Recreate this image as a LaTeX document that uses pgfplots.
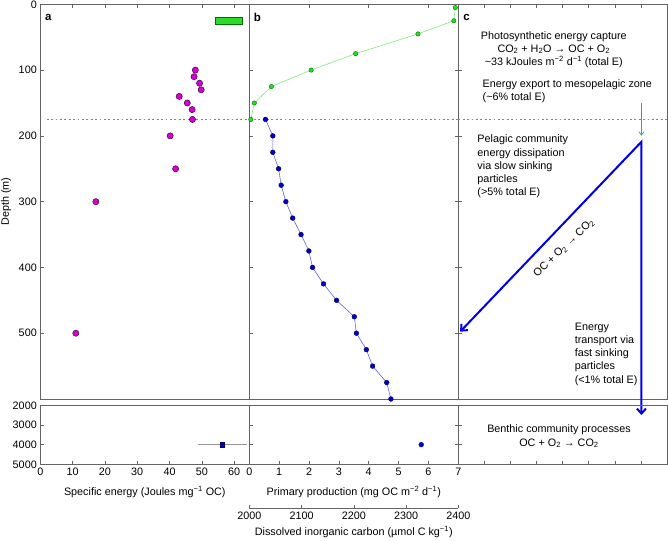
\documentclass[border=0pt]{standalone}
\usepackage{fontspec}
\setmainfont{Liberation Sans}
\usepackage{pgfplots}
\pgfplotsset{compat=1.18}
\usetikzlibrary{arrows.meta}

\definecolor{axgray}{RGB}{100,100,100}
\definecolor{magfill}{RGB}{215,0,215}
\definecolor{magdraw}{RGB}{70,0,70}
\definecolor{dotmag}{RGB}{240,60,240}
\definecolor{gfill}{RGB}{40,220,40}
\definecolor{gdraw}{RGB}{0,110,0}
\definecolor{gline}{RGB}{130,230,130}
\definecolor{bfill}{RGB}{0,0,190}
\definecolor{bdraw}{RGB}{0,0,110}
\definecolor{bline}{RGB}{100,100,225}
\definecolor{arrblue}{RGB}{0,0,230}
\definecolor{arrgreen}{RGB}{50,175,100}
\definecolor{errgray}{RGB}{150,150,150}

\newcommand{\tfont}{\fontsize{10.8}{13.2}\selectfont}

\pgfplotsset{
  panel/.style={
    scale only axis, anchor=south west,
    axis line style={draw=axgray, line width=0.6pt},
    tick align=inside,
    every tick/.style={axgray, line width=0.5pt},
    major tick length=3.5pt,
    y dir=reverse,
    clip=false,
    tick label style={font=\tfont},
    label style={font=\tfont},
    /pgf/number format/assume math mode=true,
    /pgf/number format/1000 sep={},
  },
  upper/.style={panel, height=394.7pt, ymin=0, ymax=600},
  lower/.style={panel, height=59pt, ymin=2000, ymax=5000},
}

\begin{document}
\begin{tikzpicture}
\useasboundingbox (0,0) rectangle (668pt,540pt);

% ---------- Panel a, upper ----------
\begin{axis}[upper, at={(40.3pt,141pt)}, width=209pt,
  xmin=0, xmax=64.7, xtick={10,20,...,60}, xtick pos=right, xticklabels={},
  ytick={0,100,...,500}, ytick pos=left,
  ylabel={Depth (m)},
  ylabel style={at={(axis description cs:-0.164,0.5)}, anchor=center}]
\addplot[color=dotmag, solid, line width=1.8pt, dash pattern=on 1.8pt off 2.6pt] coordinates {(2,175) (64.7,175)};
\addplot[fill=gfill, draw=gdraw, line width=0.5pt] coordinates {(54.1,20) (62.5,20) (62.5,30) (54.1,30)} -- cycle;
\addplot[only marks, mark=*, mark size=3.1pt, mark options={fill=magfill, draw=magdraw, line width=0.5pt}] coordinates {
(48.0,100) (47.6,110) (49.3,120) (49.8,130) (43.0,140) (45.5,150) (47.0,160) (47.1,175)
(40.2,200) (41.9,250) (17.2,300) (11.0,500)};
\node[font=\bfseries\fontsize{11.5}{13}\selectfont] at (axis cs:2.5,20) {a};
\end{axis}

% ---------- Panel b, upper ----------
\begin{axis}[upper, at={(249.3pt,141pt)}, width=209pt,
  xmin=0, xmax=7, xtick={2,4,6}, xtick pos=right, xticklabels={},
  ytick={100,200,...,500}, ytick pos=both, yticklabels={}]
\addplot[color=dotmag, solid, line width=1.8pt, dash pattern=on 1.8pt off 2.6pt] coordinates {(0,175) (7,175)};
\addplot[color=gline, line width=0.6pt, mark=*, mark size=2.2pt, mark options={fill=gfill, draw=gdraw, line width=0.4pt}] coordinates {
(6.90,5) (6.85,25) (5.65,45) (3.56,75) (2.07,100) (0.74,125) (0.17,150) (0.05,175)};
\node[font=\bfseries\fontsize{11.5}{13}\selectfont] at (axis cs:0.27,20) {b};
\end{axis}

% DIC overlay on panel b upper
\begin{axis}[upper, at={(249.3pt,141pt)}, width=209pt, hide axis,
  xmin=2000, xmax=2400]
\addplot[color=bline, line width=0.6pt, mark=*, mark size=2.4pt, mark options={fill=bfill, draw=bdraw, line width=0.4pt}] coordinates {
(2031,175) (2045,200) (2045,225) (2056,250) (2061,275) (2070,300) (2083,325) (2099,350)
(2114,375) (2121,400) (2142,425) (2167,450) (2201,475) (2205,500) (2224,525) (2236,550)
(2263,575) (2271,600)};
\end{axis}

% ---------- Panel c, upper ----------
\begin{axis}[upper, at={(458.3pt,141pt)}, width=208.7pt,
  xmin=0, xmax=8, xtick={1,...,7}, xtick pos=right, xticklabels={},
  ytick={100,200,...,500}, ytick pos=left, yticklabels={}]
\addplot[color=dotmag, solid, line width=1.8pt, dash pattern=on 1.8pt off 2.6pt] coordinates {(0,175) (8,175)};
\node[font=\bfseries\fontsize{11.5}{13}\selectfont] at (axis cs:0.32,20) {c};
\node[font=\tfont, align=center] at (axis cs:3.66,68.7) {Photosynthetic energy capture\\CO\textsubscript{2} + H\textsubscript{2}O → OC + O\textsubscript{2}\\\textasciitilde33 kJoules m\textsuperscript{−2} d\textsuperscript{−1} (total E)};
\node[font=\tfont, align=left, anchor=west] at (axis cs:0.80,132.6) {Energy export to mesopelagic zone\\(\textasciitilde6\% total E)};
\node[font=\tfont, align=left, anchor=west] at (axis cs:0.60,246.7) {Pelagic community\\energy dissipation\\via slow sinking\\particles\\(>5\% total E)};
\node[font=\tfont, align=left, anchor=west] at (axis cs:4.33,531.6) {Energy\\transport via\\fast sinking\\particles\\(<1\% total E)};
\node[font=\tfont, rotate=44] at (axis cs:4.05,370.5) {OC + O\textsubscript{2} → CO\textsubscript{2}};
\draw[arrgreen, line width=0.7pt, -{Straight Barb[length=3.5pt,width=5pt]}] (axis cs:7.02,150.5) -- (axis cs:7.02,199.8);
\draw[arrblue, line width=2pt, line join=miter, {Straight Barb[length=5pt,width=9pt]}-{Straight Barb[length=5pt,width=9pt]}]
  (axis cs:0.07,497.7) -- (axis cs:7.02,209) -- (axis cs:7.02,624.4);
\end{axis}

% ---------- Panel a, lower ----------
\begin{axis}[lower, at={(40.3pt,75.7pt)}, width=209pt,
  xmin=0, xmax=64.7, xtick={0,10,...,60}, xtick pos=left,
  ytick={2000,3000,4000,5000}, ytick pos=left,
  xlabel={Specific energy (Joules mg\textsuperscript{−1} OC)},
  xlabel style={at={(axis description cs:0.5,0)}, anchor=center, yshift=-27.4pt}]
\addplot[errgray, line width=0.7pt, mark=square*, mark size=2.3pt,
  mark options={fill=bfill, draw=bdraw, line width=0.4pt},
  error bars/.cd, x dir=both, x explicit, error mark=none,
  error bar style={errgray, line width=0.7pt}] coordinates {(56.3,4000) +- (7.6,0)};
\end{axis}

% ---------- Panel b, lower ----------
\begin{axis}[lower, at={(249.3pt,75.7pt)}, width=209pt,
  xmin=0, xmax=7, xtick={0,...,7}, xtick pos=left,
  ytick={3000,4000}, ytick pos=both, yticklabels={},
  xlabel={Primary production (mg OC m\textsuperscript{−2} d\textsuperscript{−1})},
  xlabel style={at={(axis description cs:0.5,0)}, anchor=center, yshift=-27.4pt}]
\end{axis}
\begin{axis}[lower, at={(249.3pt,75.7pt)}, width=209pt, hide axis,
  xmin=2000, xmax=2400]
\addplot[only marks, mark=*, mark size=2.4pt, mark options={fill=bfill, draw=bfill}] coordinates {(2329,4000)};
\end{axis}

% ---------- Panel c, lower ----------
\begin{axis}[lower, at={(458.3pt,75.7pt)}, width=208.7pt,
  xmin=0, xmax=8, xtick={1,...,7}, xtick pos=left, xticklabels={},
  ytick={3000,4000}, ytick pos=left, yticklabels={}]
\node[font=\tfont, align=center] at (axis cs:3.86,3586) {Benthic community processes\\OC + O\textsubscript{2} → CO\textsubscript{2}};
\end{axis}

% ---------- DIC axis ----------
\begin{axis}[scale only axis, anchor=south west, at={(249.3pt,31.7pt)}, width=209pt, height=10pt,
  xmin=2000, xmax=2400, ymin=0, ymax=1,
  axis y line=none, axis x line=bottom, ytick=\empty,
  x axis line style={-, draw=axgray, line width=0.6pt},
  tick align=inside, every tick/.style={axgray, line width=0.5pt}, major tick length=3.5pt,
  xtick={2000,2100,...,2400},
  tick label style={font=\tfont}, label style={font=\tfont},
  /pgf/number format/assume math mode=true, /pgf/number format/1000 sep={},
  xlabel={Dissolved inorganic carbon (µmol C kg\textsuperscript{−1})},
  xlabel style={at={(axis description cs:0.5,0)}, anchor=center, yshift=-23.5pt}]
\addplot[draw=none] coordinates {(2000,0) (2400,0)};
\end{axis}
\end{tikzpicture}
\end{document}
